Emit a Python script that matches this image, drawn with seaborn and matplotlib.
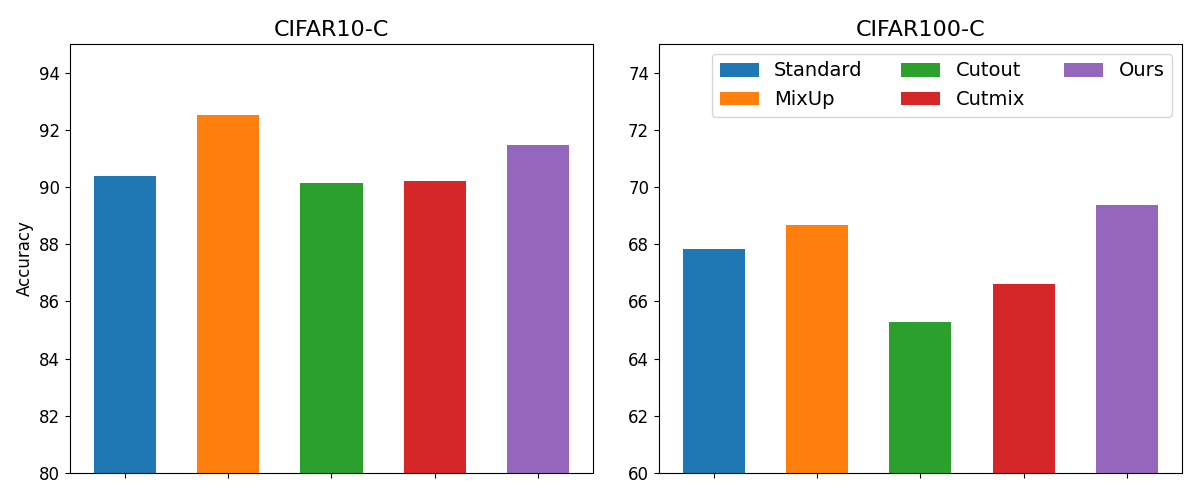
import pandas as pd
import seaborn as sns
import matplotlib.pyplot as plt

methods = ["Standard", "MixUp", "Cutout", "Cutmix", "Ours"]
cifar10_acc = [90.40, 92.53, 90.15, 90.22, 91.48]
cifar100_acc = [67.84, 68.68, 65.29, 66.62, 69.38]

df10 = pd.DataFrame({"method": methods, "acc": cifar10_acc})
df100 = pd.DataFrame({"method": methods, "acc": cifar100_acc})

fig, axes = plt.subplots(1, 2, figsize=(12, 5))
plt.subplots_adjust(left=0.0583, right=0.985, top=0.912, bottom=0.054, wspace=0.126)

# CIFAR10-C
sns.barplot(data=df10, x="method", y="acc", hue="method", palette="tab10",
            width=0.6, saturation=1, legend=False, ax=axes[0])
axes[0].set_ylim(80, 95)
axes[0].set_title("CIFAR10-C", fontsize=16)
axes[0].set_ylabel("Accuracy", fontsize=12)

# CIFAR100-C
sns.barplot(data=df100, x="method", y="acc", hue="method", palette="tab10",
            width=0.6, saturation=1, legend=False, ax=axes[1])
axes[1].set_ylim(60, 75)
axes[1].set_title("CIFAR100-C", fontsize=16)
axes[1].set_ylabel("")

# legend built from the bars themselves
handles = list(axes[1].patches)[:len(methods)]
axes[1].legend(handles, methods, ncol=3, loc="upper right", fontsize=14)

for ax in axes:
    ax.set_xlabel("")
    ax.set_xlim(-0.53, 4.53)
    ax.set_xticks(range(len(methods)))
    ax.set_xticklabels([])
    ax.tick_params(axis="y", labelsize=12)

plt.savefig("out.png", dpi=100)
